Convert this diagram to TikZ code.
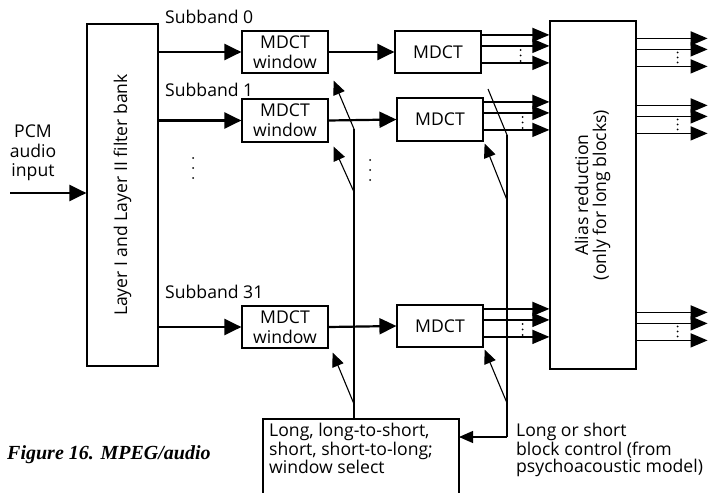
\documentclass[tikz,border=0pt]{standalone}
\usepackage{fontspec}
\setmainfont{Open Sans}
\newfontfamily\capfont{Liberation Serif}
\usetikzlibrary{arrows.meta,calc}
\tikzset{
  box/.style={draw,line width=1.2pt,inner sep=0pt,align=center,font=\fontsize{17.6}{20}\selectfont},
  lbl/.style={inner sep=0pt,align=left,font=\fontsize{17.6}{15.8}\selectfont},
  mainarr/.style={line width=2.2pt,-{Triangle[length=17pt,width=16pt]}},
  outarr/.style={line width=1.5pt,-{Triangle[length=17pt,width=14pt]}},
  ctlarr/.style={line width=1.1pt,-{Triangle[length=14pt,width=12pt]}},
  ctl/.style={line width=1.1pt},
  dot/.style={circle,fill,inner sep=0pt,minimum size=2pt},
}
\begin{document}
\begin{tikzpicture}[x=1pt,y=-1pt]
\useasboundingbox[fill=white] (0,0) rectangle (708,492);
% main boxes
\node[box,minimum width=71pt,minimum height=342pt] (fb) at (122.5,195)
  {\rotatebox{90}{Layer I and Layer II filter bank}};
\node[box,minimum width=86pt,minimum height=348pt] (alias) at (593,195)
  {\rotatebox{90}{\begin{tabular}{@{}c@{}}Alias reduction\\[-2pt](only for long blocks)\end{tabular}}};
\node[box,minimum width=86pt,minimum height=42pt] (w0) at (285,52) {MDCT\\window};
\node[box,minimum width=86pt,minimum height=43pt] (w1) at (285,120.5) {MDCT\\window};
\node[box,minimum width=86pt,minimum height=42pt] (w31) at (285,327) {MDCT\\window};
\node[box,minimum width=86pt,minimum height=42pt] (m0) at (438,52) {MDCT};
\node[box,minimum width=86pt,minimum height=43pt] (m1) at (440,119.5) {MDCT};
\node[box,minimum width=86pt,minimum height=42pt] (m31) at (440,326) {MDCT};
% labels
\node[lbl,anchor=west] (s0) at (165,17) {Subband 0};
\node[lbl,anchor=west] (s1) at (165,90) {Subband 1};
\node[lbl,anchor=west] (s31) at (165,292) {Subband 31};
\node[lbl,align=center,font=\fontsize{17.6}{19.5}\selectfont] (pcm) at (33,153) {PCM\\audio\\input};
\node[lbl,font=\capfont\fontsize{20}{22}\selectfont\bfseries\itshape,anchor=west] (fig) at (7,455) {Figure 16. MPEG/audio};
% open select box
\coordinate (selTL) at (263,419);
\coordinate (selTR) at (459,419);
\draw[line width=1.2pt] (263,493) -- (selTL) -- (selTR) -- (459,493);
\node[lbl,anchor=north west] (sel) at (269,423) {Long, long-to-short,\\short, short-to-long;\\window select};
\node[lbl,anchor=north west] (blk) at (516,423) {Long or short\\block control (from\\psychoacoustic model)};
% input
\coordinate (pin) at (10,193);
\draw[mainarr] (pin) -- (pin -| fb.west);
% subband arrows
\draw[mainarr] (fb.east |- w0) -- (w0.west);
\draw[mainarr] (fb.east |- w1) -- (w1.west);
\draw[mainarr] (fb.east |- w31) -- (w31.west);
\draw[mainarr] (w0.east) -- (m0.west);
\draw[mainarr] (w1.east) -- (m1.west);
\draw[mainarr] (w31.east) -- (m31.west);
% MDCT outputs
\foreach \m in {m0,m1,m31}{
  \foreach \o in {4.5,15.5,32.5}{
    \draw[outarr] ($(\m.north east)+(0,\o)$) -- ($(alias.west |- \m.north)+(0,\o)$);
  }
  \foreach \o in {19.5,25,30.5}{
    \node[dot] at ($(\m.north east)+(39,\o)$) {};
  }
  \foreach \o in {8,19,36}{
    \draw[outarr] ($(alias.east |- \m.north)+(0,\o)$) -- ++(71,0);
  }
  \foreach \o in {22,27,32}{
    \node[dot] at ($(alias.east |- \m.north)+(41,\o)$) {};
  }
}
% vertical dots
\foreach \y in {158,168,178}{ \node[dot] at (193,\y) {}; }
\foreach \y in {160,170,180}{ \node[dot] at (370,\y) {}; }
% window select control
\coordinate (wa) at (354,129);
\coordinate (wb) at (354,192);
\coordinate (wc) at (354,404);
\draw[ctl] (wa) -- (wa |- selTL);
\draw[ctlarr] (wa) -- ($(w0.south east)+(5,7)$);
\draw[ctlarr] (wb) -- ($(w1.south east)+(5,4)$);
\draw[ctlarr] (wc) -- ($(w31.south east)+(4,4)$);
% block control
\coordinate (ba) at (507,135);
\coordinate (bb) at (507,200);
\coordinate (bc) at (507,403);
\coordinate (bd) at (507,437);
\draw[ctl] (ba) -- (488,89);
\draw[ctl] (ba) -- (bd);
\draw[ctlarr] (bd) -- (bd -| selTR);
\draw[ctlarr] (bb) -- ($(m1.south east)+(1,2)$);
\draw[ctlarr] (bc) -- ($(m31.south east)+(1,2)$);
\end{tikzpicture}
\end{document}
